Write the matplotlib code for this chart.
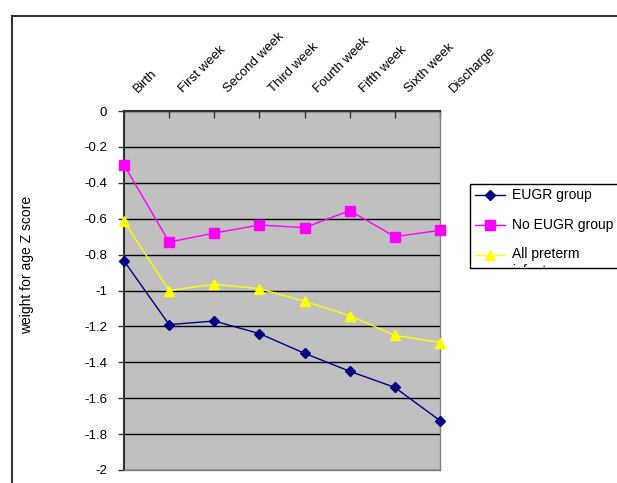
import matplotlib
matplotlib.use("Agg")
import matplotlib.pyplot as plt
from matplotlib.lines import Line2D
from matplotlib.patches import Rectangle
import matplotlib.transforms as mtransforms

categories = ["Birth", "First week", "Second week", "Third week",
              "Fourth week", "Fifth week", "Sixth week", "Discharge"]
eugr = [-0.835, -1.19, -1.17, -1.24, -1.35, -1.45, -1.54, -1.725]
no_eugr = [-0.30, -0.73, -0.68, -0.635, -0.65, -0.555, -0.70, -0.665]
all_preterm = [-0.615, -1.00, -0.965, -0.99, -1.06, -1.14, -1.25, -1.29]
series_names = ["EUGR group", "No EUGR group", "All preterm\ninfants"]
yticks = [0, -0.2, -0.4, -0.6, -0.8, -1, -1.2, -1.4, -1.6, -1.8, -2]
ylabels = ["0", "-0.2", "-0.4", "-0.6", "-0.8", "-1", "-1.2", "-1.4", "-1.6", "-1.8", "-2"]

plt.rcParams['font.family'] = ['Liberation Sans', 'DejaVu Sans']
W, H = 617, 483
fig = plt.figure(figsize=(W / 100, H / 100), dpi=100)

def fx(px):
    return px / W

def fy(py):
    return 1 - py / H

# outer frame (cropped)
fig.add_artist(Line2D([fx(12), fx(12)], [fy(16), fy(490)], color="#333333", lw=1.5))
fig.add_artist(Line2D([fx(12), fx(630)], [fy(16), fy(16)], color="#333333", lw=1.5))

ax = fig.add_axes([fx(124), fy(470), fx(440) - fx(124), fy(111) - fy(470)])
ax.set_facecolor("#C0C0C0")
x = list(range(len(categories)))

ax.plot(x, eugr, color="#000080", lw=1, marker="D", ms=5, mfc="#000080", mec="#000080", clip_on=False, zorder=5)
ax.plot(x, no_eugr, color="#FF00FF", lw=1, marker="s", ms=6.5, mfc="#FF00FF", mec="#FF00FF", clip_on=False, zorder=5)
ax.plot(x, all_preterm, color="#FFFF00", lw=1, marker="^", ms=7, mfc="#FFFF00", mec="#FFFF00", clip_on=False, zorder=5)

ax.set_xlim(0, len(categories) - 1)
ax.set_ylim(-2, 0)
ax.set_yticks(yticks)
ax.set_yticklabels(ylabels, fontsize=9.5)
ax.yaxis.grid(True, color="black", lw=1)
ax.set_axisbelow(True)
ax.tick_params(axis="y", direction="out", length=4, width=1, color="#333333", pad=8)

ax.xaxis.tick_top()
ax.set_xticks(x)
ax.set_xticklabels(categories, fontsize=9.5, rotation=45, ha="left", va="bottom",
                   rotation_mode="anchor")
ax.tick_params(axis="x", direction="in", length=5, width=1, color="#333333", pad=2)
offset = mtransforms.ScaledTranslation(16 / 100, 13 / 100, fig.dpi_scale_trans)
for lab in ax.get_xticklabels():
    lab.set_transform(lab.get_transform() + offset)

for s in ["left", "top"]:
    ax.spines[s].set_color("#333333")
    ax.spines[s].set_linewidth(1.5)
for s in ["right", "bottom"]:
    ax.spines[s].set_color("#808080")
    ax.spines[s].set_linewidth(1)

fig.text(fx(27), fy(265), "weight for age Z score", rotation=90, ha="center", va="center", fontsize=10)

# legend (cropped at bottom and right)
lx0, ly0, lx1, ly1 = 470, 184, 640, 268
rect = Rectangle((fx(lx0), fy(ly1)), fx(lx1) - fx(lx0), fy(ly0) - fy(ly1),
                 transform=fig.transFigure, fill=False, ec="black", lw=1)
fig.add_artist(rect)
styles = [("#000080", "D", 5), ("#FF00FF", "s", 6.5), ("#FFFF00", "^", 7)]
rows = [195, 225, 255]
for (c, m, ms), name, ry in zip(styles, series_names, rows):
    fig.add_artist(Line2D([fx(475), fx(505)], [fy(ry), fy(ry)], color=c, lw=1))
    fig.add_artist(Line2D([fx(490)], [fy(ry)], color=c, marker=m, ms=ms, mfc=c, mec=c))
    t = fig.text(fx(512), fy(ry), name, ha="left", va="top" if "\n" in name else "center",
                 fontsize=10, linespacing=1.3)
    if "\n" in name:
        t.set_y(fy(ry - 8))
        t.set_clip_path(Rectangle((fx(lx0), fy(ly1 - 1)), fx(lx1) - fx(lx0), fy(ly0) - fy(ly1 - 1),
                                  transform=fig.transFigure))

fig.savefig("out.png", dpi=100)
